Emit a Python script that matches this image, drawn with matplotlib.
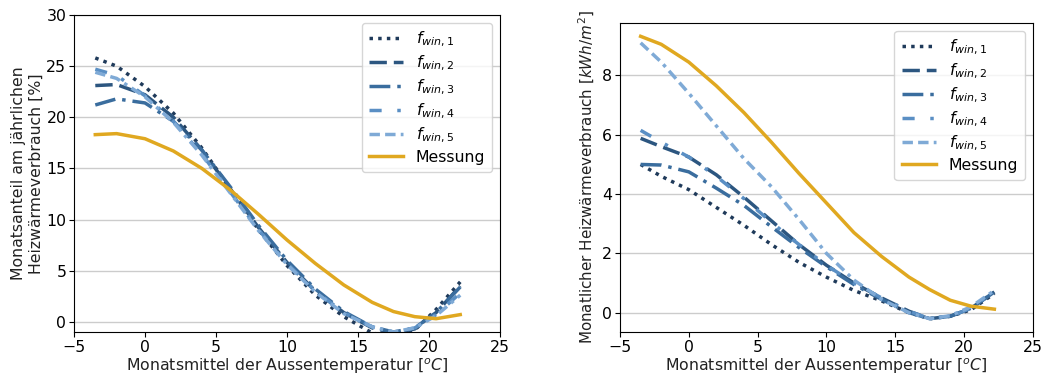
import numpy as np
import matplotlib.pyplot as plt

t = np.array([-3.5, -2, 0, 2, 4, 6, 8, 10, 12, 14, 16, 17.5, 19, 20.5, 22.2])

# linkes Diagramm: Monatsanteil [%]
anteil_f1 = [25.8, 25.0, 23.0, 20.4, 17.0, 13.0, 9.0, 5.5, 2.6, 0.5, -1.1, -1.5, -0.8, 1.2, 3.9]
anteil_f2 = [23.1, 23.2, 22.2, 20.0, 16.8, 13.0, 9.2, 5.8, 3.0, 0.9, -0.6, -1.1, -0.7, 0.9, 3.5]
anteil_f3 = [21.2, 21.8, 21.4, 19.6, 16.8, 13.2, 9.4, 6.0, 3.2, 1.0, -0.5, -1.0, -0.6, 0.9, 3.4]
anteil_f4 = [24.7, 24.1, 22.1, 19.6, 16.4, 12.7, 9.0, 5.7, 3.0, 0.9, -0.5, -1.0, -0.6, 0.7, 2.8]
anteil_f5 = [24.4, 23.8, 22.0, 19.5, 16.3, 12.6, 8.9, 5.6, 2.9, 0.8, -0.5, -1.0, -0.6, 0.6, 2.6]
anteil_mess = [18.3, 18.4, 17.9, 16.7, 15.0, 12.9, 10.5, 8.0, 5.7, 3.6, 1.9, 1.0, 0.5, 0.3, 0.7]

# rechtes Diagramm: monatlicher Verbrauch [kWh/m2]
verb_f1 = [5.0, 4.6, 4.15, 3.55, 2.95, 2.3, 1.7, 1.2, 0.75, 0.4, 0.0, -0.2, -0.12, 0.1, 0.65]
verb_f2 = [5.88, 5.6, 5.25, 4.65, 3.9, 3.1, 2.3, 1.6, 1.0, 0.5, 0.05, -0.2, -0.12, 0.15, 0.7]
verb_f3 = [5.0, 4.98, 4.75, 4.2, 3.62, 2.9, 2.2, 1.55, 0.95, 0.45, 0.0, -0.2, -0.12, 0.15, 0.7]
verb_f4 = [6.15, 5.75, 5.25, 4.6, 3.85, 3.05, 2.3, 1.6, 1.0, 0.5, 0.05, -0.2, -0.12, 0.15, 0.72]
verb_f5 = [9.1, 8.45, 7.4, 6.3, 5.2, 4.25, 3.15, 2.0, 1.1, 0.45, 0.0, -0.2, -0.1, 0.2, 0.75]
verb_mess = [9.32, 9.05, 8.45, 7.65, 6.75, 5.75, 4.7, 3.7, 2.7, 1.9, 1.2, 0.78, 0.42, 0.22, 0.12]

labels = ['$f_{win,1}$', '$f_{win,2}$', '$f_{win,3}$', '$f_{win,4}$', '$f_{win,5}$', 'Messung']
farben = ['#1f3a5a', '#2c5680', '#3a6d9e', '#5a8fc4', '#7faad6', '#e0a820']
stile = [(0, (1, 1.5)), (0, (5, 2)), (0, (6, 2, 1, 2)), (0, (3.5, 4.5, 1, 4.5)), (0, (3, 1.5, 3, 1.5, 1, 1.5)), '-']

fs = 11.3
fig = plt.figure(figsize=(10.48, 3.78), dpi=100)
ax1 = fig.add_axes([0.0706, 0.1217, 0.4065, 0.8386])
ax2 = fig.add_axes([0.5916, 0.1217, 0.394, 0.8175])

for ax, reihen in [(ax1, [anteil_f1, anteil_f2, anteil_f3, anteil_f4, anteil_f5, anteil_mess]),
                   (ax2, [verb_f1, verb_f2, verb_f3, verb_f4, verb_f5, verb_mess])]:
    for y, lab, c, ls in zip(reihen, labels, farben, stile):
        ax.plot(t, y, color=c, linestyle=ls, lw=2.5, label=lab)
    ax.set_xlim(-5, 25)
    ax.grid(axis='y', color='#cccccc', lw=1)
    ax.set_axisbelow(True)
    ax.set_xlabel('Monatsmittel der Aussentemperatur [$^oC$]', fontsize=fs, color='#222222', labelpad=1)
    ax.tick_params(labelsize=fs, pad=2)
    ax.legend(loc='upper right', fontsize=fs, handlelength=2.2, borderpad=0.45, labelspacing=0.3)

ax1.set_ylim(-1, 30)
ax1.set_ylabel('Monatsanteil am jährlichen\nHeizwärmeverbrauch [%]', fontsize=fs, color='#222222', labelpad=2)
ax2.set_ylim(-0.65, 9.77)
ax2.set_yticks([0, 2, 4, 6, 8])
ax2.set_ylabel('Monatlicher Heizwärmeverbrauch [$kWh/m^2$]', fontsize=10.9, color='#222222', labelpad=4)

plt.savefig('out.png', dpi=100)
